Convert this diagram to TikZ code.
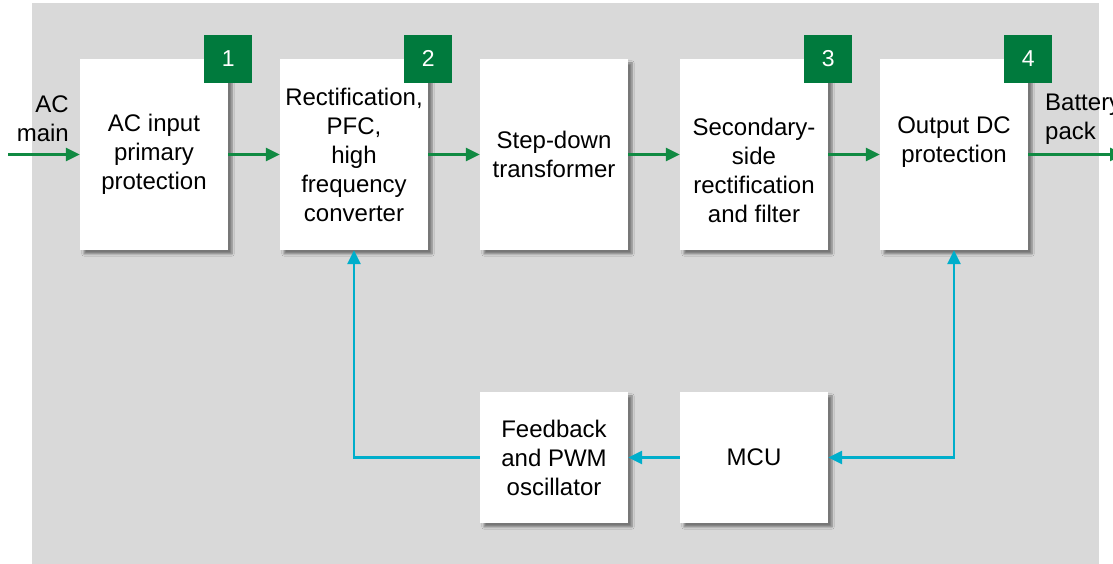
\documentclass[tikz,border=0pt]{standalone}
\usepackage{fontspec}
\setmainfont{Liberation Sans}
\usepackage{tikz}
\usetikzlibrary{shapes, calc, positioning, arrows.meta, shadows.blur}
\definecolor{bggray}{RGB}{217,217,217}
\definecolor{tagGreen}{RGB}{0,122,61}
\definecolor{lineGreen}{RGB}{16,138,66}
\definecolor{lineCyan}{RGB}{0,174,203}
\tikzstyle{blockbox}=[
    rectangle,      % plain white box
    fill=white,     % white fill, no border
    blur shadow={shadow xshift=4pt, shadow yshift=-4pt, shadow blur steps=6, shadow opacity=45},
    minimum width=148pt,
    minimum height=191pt,
    align=center,
    font=\fontsize{24}{29}\selectfont]
\tikzstyle{lowbox}=[
    blockbox,
    minimum height=131pt]
\tikzstyle{badge}=[
    rectangle,      % small green square on the corner
    fill=tagGreen,
    text=white,
    minimum size=48pt,
    inner sep=0pt,
    font=\fontsize{23}{26}\selectfont]
\tikzstyle{sidetext}=[
    inner sep=0pt,
    font=\fontsize{24}{29}\selectfont]
\tikzstyle{powerline}=[
    draw=lineGreen, line width=2.5pt,
    -{Triangle[length=14pt,width=13pt]}]
\tikzstyle{ctrlline}=[
    draw=lineCyan, line width=2.5pt,
    -{Triangle[length=14pt,width=13pt]}]
\begin{document}
\begin{tikzpicture}[x=1pt, y=1pt]
        % Background
        \useasboundingbox (0,0) rectangle (1113,564);
        \fill[bggray] (32,0) rectangle (1099,561);

        % Draw the blocks.
        \node[blockbox] (ac) at (154,409.5) {AC input\\primary\\protection};
        \node[blockbox, right of=ac, node distance=200pt] (pfc) {Rectification,\\PFC,\\high\\frequency\\converter};
        \node[blockbox, right of=pfc, node distance=200pt] (xfmr) {Step-down\\transformer};
        \node[blockbox, right of=xfmr, node distance=200pt] (sec) {\strut\\Secondary-\\side\\rectification\\and filter};
        \node[blockbox, right of=sec, node distance=200pt] (outp) {Output DC\\protection\\\mbox{}};
        \node[lowbox, below of=xfmr, node distance=303pt] (fb) {Feedback\\and PWM\\oscillator};
        \node[lowbox, right of=fb, node distance=200pt] (mcu) {MCU};

        % Number tags
        \node[badge] (t1) at (ac.north east) {1};
        \node[badge] (t2) at (pfc.north east) {2};
        \node[badge] (t3) at (sec.north east) {3};
        \node[badge] (t4) at (outp.north east) {4};

        % Input and output
        \coordinate (inp) at (8,409.5);
        \coordinate (bat) at (1124,409.5);
        \node[sidetext, align=right, anchor=east] (acmain) at (69,445) {AC\\main};
        \node[sidetext, align=left, anchor=west] (batt) at (1045,445) {Battery\\pack};

        % Connect blocks with edges
        \path[powerline] (inp) -- (ac);
        \path[powerline] (ac) -- (pfc);
        \path[powerline] (pfc) -- (xfmr);
        \path[powerline] (xfmr) -- (sec);
        \path[powerline] (sec) -- (outp);
        \path[powerline] (outp) -- (bat);
        \path[ctrlline] (fb.west) -| (pfc.south);
        \path[ctrlline] (mcu) -- (fb);
        \path[ctrlline, {Triangle[length=14pt,width=13pt]}-{Triangle[length=14pt,width=13pt]}] (mcu.east) -| (outp.south);
\end{tikzpicture}
\end{document}
